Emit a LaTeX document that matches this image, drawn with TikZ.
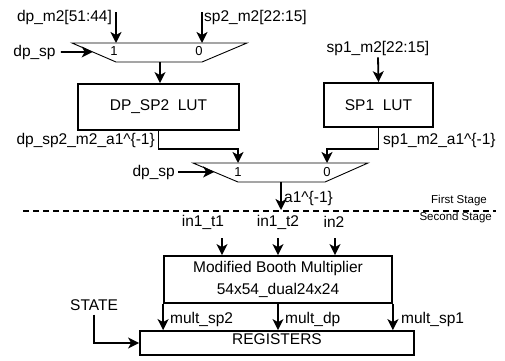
\documentclass[tikz,border=0pt]{standalone}
\usepackage{fontspec}
\setmainfont{Liberation Sans}
\usetikzlibrary{calc, positioning}
\usetikzlibrary{arrows.meta}

\tikzset{
  blk/.style={draw, line width=1.8pt, inner sep=0pt, font=\fontsize{15.5}{22}\selectfont},
  sig/.style={line width=1.8pt, -{Stealth[length=11pt, width=11pt, inset=3pt]}},
  wire/.style={line width=1.8pt},
  muxline/.style={line width=0.9pt},
  lbl/.style={font=\fontsize{15.5}{18}\selectfont, inner sep=0pt},
  sel/.style={font=\fontsize{13}{15}\selectfont, inner sep=0pt},
  stagetxt/.style={font=\fontsize{11.5}{13}\selectfont, inner sep=0pt},
}

\begin{document}
\begin{tikzpicture}[x=1pt, y=1pt]
\useasboundingbox (0,0) rectangle (505,360);

% first mux
\coordinate (M1a) at (72,317);
\coordinate (M1b) at (247,317);
\coordinate (M1c) at (202,298);
\coordinate (M1d) at (116,298);
\coordinate (M1s) at ($(M1a)!0.47!(M1d)$);
\coordinate (M1out) at (160,298);
\draw[muxline] (M1a) -- (M1b) -- (M1c) -- (M1d) -- cycle;
\node[sel] (m1one) at (114,309) {1};
\node[sel] (m1zero) at (199,309) {0};

\node[lbl] (dpm2) at (64.5,343) {dp\_m2[51:44]};
\node[lbl, anchor=west] (sp2m2) at (204,343) {sp2\_m2[22:15]};
\coordinate (dpm2e) at (116,348);
\coordinate (sp2m2e) at (202,348);
\draw[sig] (dpm2e) -- (dpm2e |- M1a);
\draw[sig] (sp2m2e) -- (sp2m2e |- M1a);
\node[lbl] (dpsp) at (34.5,308) {dp\_sp};
\draw[sig] ([xshift=5pt]dpsp.east) -- (M1s);

% look-up tables
\node[blk, minimum width=161pt, minimum height=46pt] (dplut) at (158.5,253) {DP\_SP2\ \ LUT};
\node[blk, minimum width=109pt, minimum height=44pt] (sp1lut) at (378.5,255) {SP1\ \ LUT};
\draw[sig] (M1out) -- (M1out |- dplut.north);
\node[lbl] (sp1m2) at (378,312) {sp1\_m2[22:15]};
\draw[sig] ([yshift=-2pt]sp1m2.south) -- (sp1lut.north);

% second mux
\coordinate (M2a) at (193,197);
\coordinate (M2b) at (368,197);
\coordinate (M2c) at (325,178);
\coordinate (M2d) at (238,178);
\coordinate (M2s) at ($(M2a)!0.47!(M2d)$);
\coordinate (M2in1) at (238,197);
\coordinate (M2in0) at (327,197);
\coordinate (M2out) at (281,178);
\draw[muxline] (M2a) -- (M2b) -- (M2c) -- (M2d) -- cycle;
\node[sel] (m2one) at (238,188) {1};
\node[sel] (m2zero) at (327,188) {0};

\draw[sig] (dplut.south) -- ++(0,-18) -| (M2in1);
\draw[sig] (sp1lut.south) -- ++(0,-21) -| (M2in0);
\node[lbl, anchor=east] (dpout) at (155,220) {dp\_sp2\_m2\_a1\textasciicircum\{-1\}};
\node[lbl, anchor=west] (sp1out) at (383,220) {sp1\_m2\_a1\textasciicircum\{-1\}};
\node[lbl, anchor=east] (dpsp2) at (175,188) {dp\_sp};
\draw[sig] ([xshift=3pt]dpsp2.east) -- (M2s);

\coordinate (a1e) at (281,150);
\draw[sig] (M2out) -- (a1e);
\node[lbl, anchor=west] (a1) at (284,162) {a1\textasciicircum\{-1\}};

% stage border
\coordinate (stL) at (23,149);
\coordinate (stR) at (496,149);
\draw[wire, dash pattern=on 6pt off 4pt] (stL) -- (stR);
\node[stagetxt, anchor=east] (first) at (487,159) {First Stage};
\node[stagetxt, anchor=east] (second) at (492,142) {Second Stage};

% multiplier
\node[blk, minimum width=228pt, minimum height=47pt, align=center] (mult) at (278,80.5)
  {Modified Booth Multiplier\\54x54\_dual24x24};
\node[lbl] (in1t1) at (203,138) {in1\_t1};
\node[lbl] (in1t2) at (278,138) {in1\_t2};
\node[lbl] (in2) at (334,138) {in2};
\coordinate (in1t1e) at (222,122);
\coordinate (in1t2e) at (278,122);
\coordinate (in2e) at (335,122);
\draw[sig] (in1t1e) -- (in1t1e |- mult.north);
\draw[sig] (in1t2e) -- (in1t2e |- mult.north);
\draw[sig] (in2e) -- (in2e |- mult.north);

% registers
\node[blk, minimum width=274pt, minimum height=24pt, text depth=8pt] (reg) at (277,17) {REGISTERS};
\draw[sig] (mult.south west) -- (mult.south west |- reg.north);
\draw[sig] (mult.south) -- (mult.south |- reg.north);
\draw[sig] (mult.south east) -- (mult.south east |- reg.north);
\node[lbl, anchor=west] (msp2) at (170,41) {mult\_sp2};
\node[lbl, anchor=west] (mdp) at (285,41) {mult\_dp};
\node[lbl, anchor=west] (msp1) at (401,41) {mult\_sp1};

\node[lbl] (state) at (94,55) {STATE};
\draw[sig] ([yshift=-4pt]state.south) |- (reg.west);
\end{tikzpicture}
\end{document}
